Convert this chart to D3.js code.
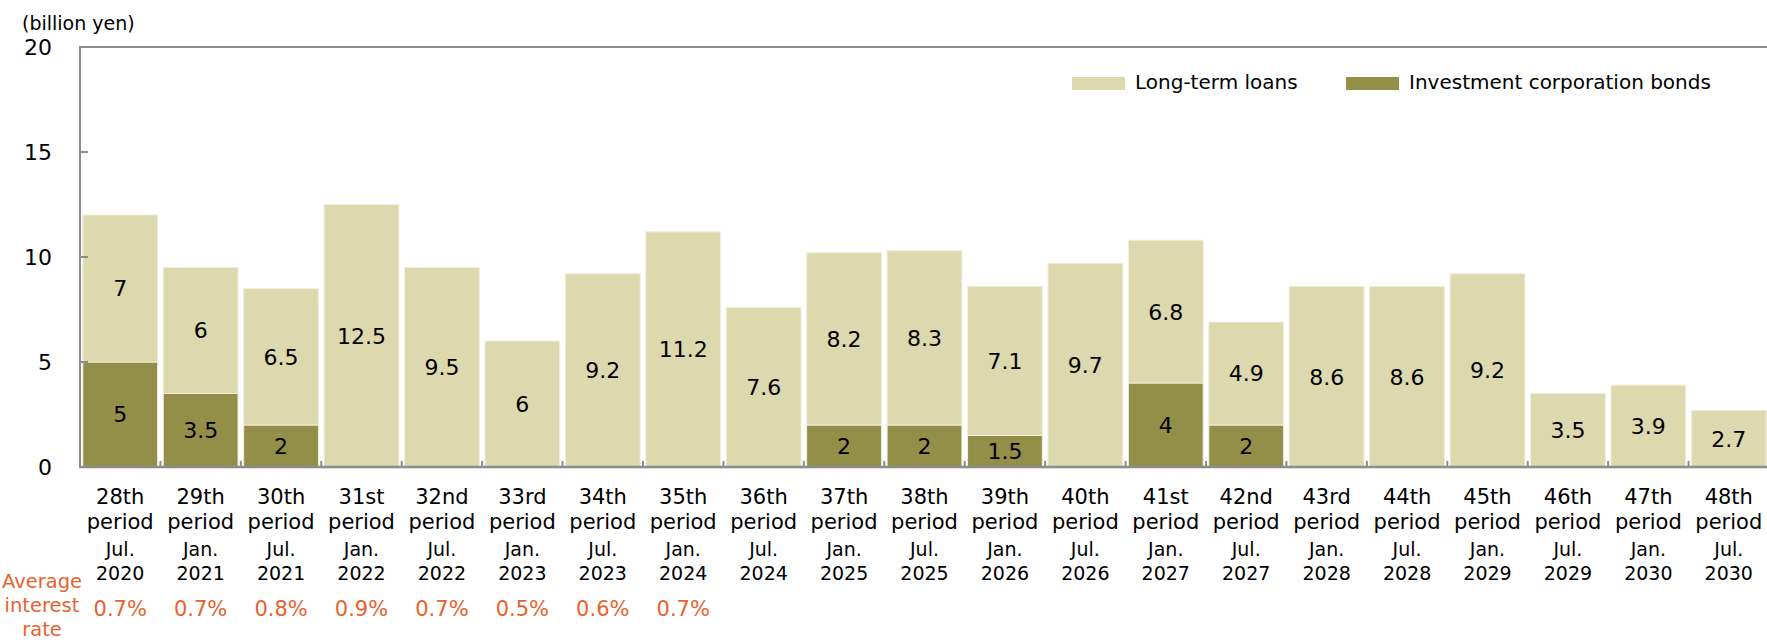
<!DOCTYPE html>
<html>
<head>
<meta charset="utf-8">
<script src="https://cdn.jsdelivr.net/npm/d3@7"></script>
<style>
  html, body { margin: 0; padding: 0; background: #fff; }
  svg { display: block; font-family: "DejaVu Sans", Verdana, sans-serif; }
</style>
</head>
<body>
<svg id="chart" width="1767" height="643"></svg>
<script>
// Repayment amounts per fiscal period (billion yen)
const ordinals = ["28th","29th","30th","31st","32nd","33rd","34th","35th","36th","37th","38th","39th","40th","41st","42nd","43rd","44th","45th","46th","47th","48th"];
const months   = ["Jul.","Jan.","Jul.","Jan.","Jul.","Jan.","Jul.","Jan.","Jul.","Jan.","Jul.","Jan.","Jul.","Jan.","Jul.","Jan.","Jul.","Jan.","Jul.","Jan.","Jul."];
const years    = ["2020","2021","2021","2022","2022","2023","2023","2024","2024","2025","2025","2026","2026","2027","2027","2028","2028","2029","2029","2030","2030"];
const bonds    = [5, 3.5, 2, 0, 0, 0, 0, 0, 0, 2, 2, 1.5, 0, 4, 2, 0, 0, 0, 0, 0, 0];
const loans    = [7, 6, 6.5, 12.5, 9.5, 6, 9.2, 11.2, 7.6, 8.2, 8.3, 7.1, 9.7, 6.8, 4.9, 8.6, 8.6, 9.2, 3.5, 3.9, 2.7];
const rates    = ["0.7%","0.7%","0.8%","0.9%","0.7%","0.5%","0.6%","0.7%"];
const yTicks   = [0, 5, 10, 15, 20];

const seriesNames  = ["Investment corporation bonds", "Long-term loans"];
const seriesColors = ["#948f48", "#dcd9ae"];

const svg = d3.select("#chart");
const plotLeft = 80, plotRight = 1769, plotTop = 47, plotBottom = 467;

const x = d3.scaleBand().domain(ordinals).range([plotLeft, plotRight]).paddingInner(0.07).paddingOuter(0.035);
const y = d3.scaleLinear().domain([0, 20]).range([plotBottom, plotTop]);

const rows = ordinals.map((o, i) => ({ key: o, bonds: bonds[i], loans: loans[i] }));
const stack = d3.stack().keys(["bonds", "loans"])(rows);

// stacked bars
const layers = svg.append("g").selectAll("g").data(stack).join("g")
  .attr("fill", (d, i) => seriesColors[i]);
layers.selectAll("rect").data(d => d.filter(s => s[1] - s[0] > 0)).join("rect")
  .attr("x", d => x(d.data.key))
  .attr("width", x.bandwidth())
  .attr("y", d => y(d[1]))
  .attr("height", d => y(d[0]) - y(d[1]))
  .attr("stroke", "#efeedc")
  .attr("stroke-width", 1);

// value labels centred in each segment
layers.selectAll("text").data(d => d.filter(s => s[1] - s[0] > 0)).join("text")
  .attr("x", d => x(d.data.key) + x.bandwidth() / 2)
  .attr("y", d => y((d[0] + d[1]) / 2))
  .attr("dy", "0.36em")
  .attr("text-anchor", "middle")
  .attr("fill", "#000")
  .attr("font-size", 22)
  .text(d => d3.format("~g")(d[1] - d[0]));

// frame: top border, left axis, baseline
const axisColor = "#8c8c8c";
svg.append("line").attr("x1", plotLeft).attr("x2", 1767).attr("y1", y(20)).attr("y2", y(20))
  .attr("stroke", axisColor).attr("stroke-width", 2);
svg.append("line").attr("x1", plotLeft).attr("x2", plotLeft).attr("y1", y(20) - 1).attr("y2", y(0) + 1)
  .attr("stroke", axisColor).attr("stroke-width", 2);
svg.append("line").attr("x1", plotLeft - 1).attr("x2", 1767).attr("y1", y(0)).attr("y2", y(0))
  .attr("stroke", axisColor).attr("stroke-width", 2.5);

// y ticks (inward) and labels
svg.append("g").selectAll("line").data(yTicks.filter(t => t > 0 && t < 20)).join("line")
  .attr("x1", plotLeft).attr("x2", plotLeft + 8)
  .attr("y1", d => y(d)).attr("y2", d => y(d))
  .attr("stroke", axisColor).attr("stroke-width", 2);
svg.append("g").selectAll("text").data(yTicks).join("text")
  .attr("x", 52).attr("y", d => y(d)).attr("dy", "0.36em")
  .attr("text-anchor", "end").attr("font-size", 22).attr("fill", "#000")
  .text(d => d);

svg.append("text").attr("x", 22).attr("y", 30).attr("font-size", 19).attr("fill", "#000")
  .text("(billion yen)");

// x ticks at category boundaries
svg.append("g").selectAll("line").data(d3.range(1, ordinals.length)).join("line")
  .attr("x1", i => plotLeft + i * x.step()).attr("x2", i => plotLeft + i * x.step())
  .attr("y1", y(0)).attr("y2", y(0) - 6)
  .attr("stroke", axisColor).attr("stroke-width", 2);

// category labels
const cat = svg.append("g").selectAll("text").data(ordinals).join("text")
  .attr("text-anchor", "middle").attr("fill", "#000");
cat.each(function(o, i) {
  const t = d3.select(this);
  const cx = x(o) + x.bandwidth() / 2;
  t.append("tspan").attr("x", cx).attr("y", 504).attr("font-size", 21).text(o);
  t.append("tspan").attr("x", cx).attr("y", 529).attr("font-size", 21).text("period");
  t.append("tspan").attr("x", cx).attr("y", 556).attr("font-size", 19).text(months[i]);
  t.append("tspan").attr("x", cx).attr("y", 580).attr("font-size", 19).text(years[i]);
});

// average interest rate row
const rateColor = "#e8622e";
const rl = svg.append("text").attr("text-anchor", "middle").attr("fill", rateColor).attr("font-size", 19.5);
rl.append("tspan").attr("x", 42).attr("y", 588).text("Average");
rl.append("tspan").attr("x", 42).attr("y", 612).text("interest");
rl.append("tspan").attr("x", 42).attr("y", 636).text("rate");
svg.append("g").selectAll("text").data(rates).join("text")
  .attr("x", (d, i) => x(ordinals[i]) + x.bandwidth() / 2)
  .attr("y", 616).attr("text-anchor", "middle")
  .attr("fill", rateColor).attr("font-size", 21)
  .text(d => d);

// legend
const legendItems = [
  { name: seriesNames[1], color: seriesColors[1], x: 1072 },
  { name: seriesNames[0], color: seriesColors[0], x: 1346 }
];
const lg = svg.append("g").selectAll("g").data(legendItems).join("g")
  .attr("transform", d => `translate(${d.x},77)`);
lg.append("rect").attr("width", 53).attr("height", 13).attr("fill", d => d.color);
lg.append("text").attr("x", 63).attr("y", 12).attr("font-size", 20).attr("fill", "#000")
  .text(d => d.name);
</script>
</body>
</html>
